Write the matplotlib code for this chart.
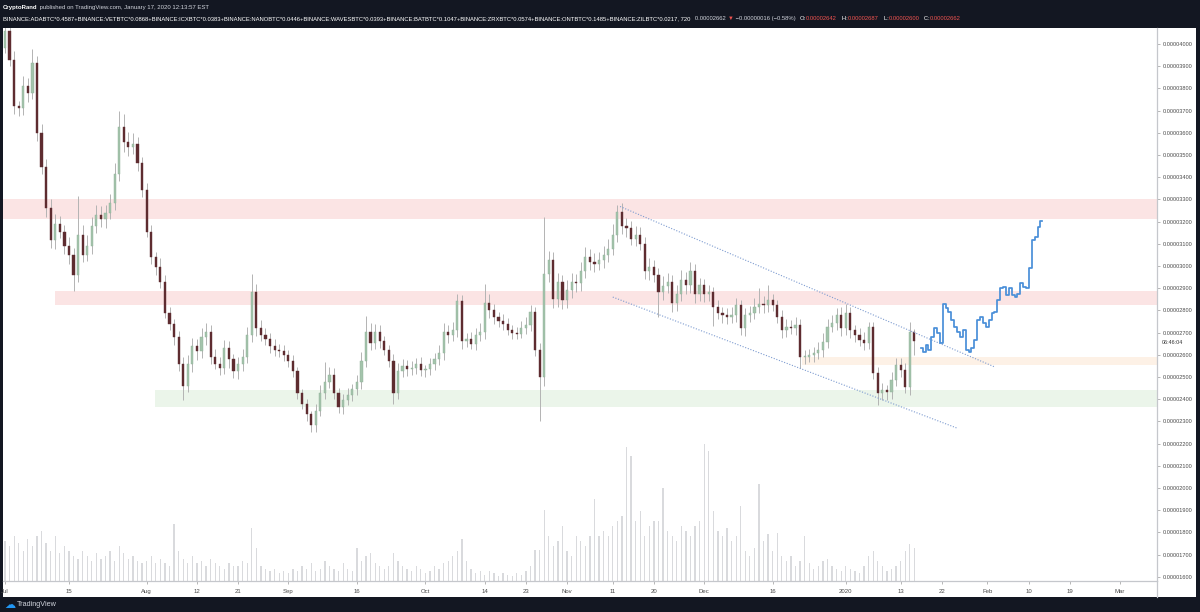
import numpy as np
import matplotlib.pyplot as plt

plt.rcParams['font.family'] = ['Liberation Sans', 'DejaVu Sans']

# Daily candles starting Jul 1 2019, prices in satoshi (1e-8 BTC)
CLOSE = [
    4060, 3930, 3720, 3712, 3809, 3780, 3914, 3600, 3446, 3260,
    3115, 3188, 3155, 3091, 3051, 2960, 3139, 3051, 3091, 3180,
    3228, 3210, 3240, 3285, 3414, 3624, 3560, 3535, 3551, 3462,
    3341, 3155, 3040, 2994, 2930, 2790, 2740, 2680, 2558, 2461,
    2558, 2639, 2615, 2680, 2703, 2590, 2560, 2542, 2631, 2580,
    2526, 2558, 2590, 2687, 2881, 2720, 2690, 2671, 2640, 2623,
    2615, 2600, 2574, 2526, 2429, 2380, 2332, 2284, 2348, 2429,
    2477, 2510, 2429, 2364, 2397, 2420, 2445, 2477, 2574, 2703,
    2655, 2703, 2660, 2623, 2574, 2429, 2526, 2550, 2535, 2542,
    2560, 2530, 2534, 2560, 2580, 2607, 2703, 2690, 2711, 2841,
    2663, 2671, 2650, 2687, 2703, 2833, 2800, 2768, 2752, 2740,
    2712, 2700, 2695, 2720, 2736, 2792, 2623, 2500, 2962, 3026,
    2850, 2930, 2849, 2890, 2930, 2922, 2978, 3042, 3020, 3010,
    3026, 3050, 3075, 3139, 3244, 3180, 3172, 3123, 3139, 3100,
    2978, 2994, 2960, 2881, 2910, 2930, 2833, 2873, 2938, 2913,
    2978, 2873, 2913, 2873, 2881, 2816, 2790, 2780, 2770, 2779,
    2824, 2719, 2779, 2786, 2816, 2831, 2824, 2846, 2824, 2771,
    2711, 2726, 2719, 2734, 2590, 2591, 2599, 2606, 2621, 2659,
    2726, 2741, 2779, 2719, 2786, 2711, 2689, 2666, 2651, 2726,
    2520, 2426, 2441, 2433, 2486, 2554, 2531, 2456, 2704, 2662,
]
FIRST_OPEN = 3980

UP_WICK = [
    40, 30, 40, 25, 45, 40, 65, 30, 40, 35,
    40, 45, 35, 30, 40, 30, 178, 45, 50, 40,
    45, 40, 35, 40, 50, 72, 60, 45, 50, 30,
    30, 35, 30, 25, 40, 30, 25, 20, 25, 30,
    40, 35, 30, 40, 41, 30, 35, 30, 35, 30,
    25, 30, 35, 40, 81, 40, 35, 30, 25, 30,
    25, 30, 20, 25, 20, 15, 20, 15, 30, 35,
    89, 35, 30, 20, 25, 30, 25, 30, 40, 73,
    40, 35, 30, 25, 20, 30, 35, 30, 25, 30,
    25, 30, 20, 25, 30, 35, 40, 30, 35, 32,
    30, 25, 30, 35, 40, 88, 40, 30, 25, 30,
    25, 20, 25, 30, 35, 30, 25, 30, 258, 40,
    35, 40, 30, 45, 40, 35, 40, 45, 35, 40,
    35, 40, 45, 50, 30, 40, 35, 30, 40, 35,
    30, 40, 35, 30, 45, 40, 30, 40, 45, 35,
    40, 30, 35, 30, 35, 25, 30, 25, 30, 35,
    30, 25, 30, 35, 40, 68, 35, 68, 30, 25,
    30, 35, 30, 35, 25, 30, 25, 30, 35, 40,
    35, 40, 30, 35, 45, 30, 25, 30, 35, 23,
    20, 25, 30, 25, 35, 30, 30, 30, 45, 10,
]

LOW_WICK = [
    20, 30, 35, 37, 30, 40, 30, 35, 30, 40,
    35, 40, 30, 35, 40, 71, 30, 35, 30, 35,
    30, 35, 40, 30, 35, 30, 45, 40, 30, 35,
    30, 25, 30, 35, 30, 25, 30, 35, 30, 64,
    30, 35, 40, 30, 35, 30, 25, 35, 30, 40,
    30, 35, 30, 25, 30, 35, 30, 25, 30, 30,
    25, 30, 30, 25, 30, 25, 30, 33, 30, 25,
    30, 25, 30, 24, 30, 25, 30, 25, 30, 30,
    35, 30, 30, 25, 30, 49, 30, 25, 30, 25,
    30, 25, 30, 25, 30, 25, 30, 35, 30, 30,
    35, 30, 25, 30, 25, 30, 35, 30, 25, 30,
    25, 30, 25, 20, 25, 30, 30, 200, 40, 35,
    40, 35, 45, 40, 35, 40, 35, 30, 40, 35,
    30, 35, 30, 25, 30, 35, 40, 30, 35, 30,
    35, 40, 30, 113, 35, 30, 40, 35, 30, 40,
    35, 40, 30, 35, 30, 88, 30, 35, 30, 25,
    30, 30, 35, 30, 25, 30, 35, 30, 25, 30,
    35, 30, 25, 30, 51, 30, 25, 30, 25, 30,
    30, 25, 30, 35, 30, 35, 30, 25, 30, 25,
    30, 53, 30, 37, 30, 25, 30, 30, 35, 62,
]

VOLUME = [
    40, 35, 45, 38, 30, 42, 35, 45, 50, 38,
    30, 45, 28, 35, 30, 25, 22, 30, 25, 20,
    28, 22, 25, 30, 20, 35, 28, 22, 25, 20,
    18, 20, 25, 18, 22, 18, 15, 57, 30, 22,
    18, 25, 18, 20, 15, 22, 18, 15, 12, 18,
    15, 15, 20, 18, 53, 33, 15, 12, 10, 12,
    8, 10, 8, 12, 10, 15, 12, 18, 10, 12,
    20, 15, 12, 10, 18, 12, 10, 33, 20, 25,
    28, 18, 15, 12, 15, 28, 20, 15, 12, 10,
    15, 12, 8, 10, 15, 12, 18, 20, 25, 30,
    42, 20, 12, 8, 10, 6, 10, 8, 5, 8,
    6, 5, 8, 6, 10, 15, 31, 31, 71, 45,
    35, 40, 55, 30, 25, 45, 40, 35, 45, 82,
    45, 50, 45, 55, 60, 65, 134, 125, 60, 70,
    45, 55, 60, 60, 93, 50, 45, 40, 55, 50,
    45, 55, 60, 137, 130, 70, 50, 45, 53, 40,
    45, 75, 30, 25, 33, 97, 40, 47, 30, 48,
    25, 20, 25, 15, 20, 45, 18, 12, 15, 20,
    22, 15, 12, 10, 15, 12, 10, 8, 15, 25,
    30, 20, 15, 10, 12, 15, 20, 30, 37, 33,
]

# projected path (blue bars pattern)
PROJECTION = [2629, 2614, 2644, 2621, 2681, 2719, 2696, 2651, 2831, 2809,
              2794, 2756, 2726, 2704, 2681, 2711, 2621, 2614, 2629, 2666,
              2756, 2771, 2741, 2726, 2756, 2786, 2794, 2846, 2899, 2907,
              2869, 2899, 2869, 2861, 2876, 2922, 2907, 2899, 2989, 3117,
              3132, 3177, 3204]
PROJ_START, PROJ_END = 200.5, 226.9

# zones: (low, high, start day, colour)
ZONES = [
    (3210, 3300, -1, '#fbe4e4'),
    (2823, 2888, 10.9, '#fbe4e4'),
    (2556, 2590, 174.4, '#fdf1e6'),
    (2364, 2443, 32.8, '#ebf5ea'),
]

# channel lines: ((day, price), (day, price))
CHANNEL = [((134.6, 3268), (216.6, 2545)),
           ((133.0, 2860), (208.3, 2270))]

X_TICK_DAYS = [0, 14, 31, 42, 51, 62, 77, 92, 105, 114, 123, 133, 142,
               153, 168, 184, 196, 205, 215, 224, 233, 244]
X_TICK_LABELS = ['Jul', '15', 'Aug', '12', '21', 'Sep', '16', 'Oct', '14',
                 '23', 'Nov', '11', '20', 'Dec', '16', '2020', '13', '22',
                 'Feb', '10', '19', 'Mar']
Y_TICKS = list(range(1600, 4001, 100))

W, H = 1200, 612
XMIN, XMAX = -0.44, 252.1
YMIN, YMAX = 1581, 4072
DARK = '#131722'

fig = plt.figure(figsize=(W / 100, H / 100), dpi=100, facecolor=DARK)

# white chart panel incl. price/time scales
panel = fig.add_axes([3 / W, 1 - 597 / H, 1193 / W, 569 / H])
panel.set_facecolor('white')
panel.set_xticks([])
panel.set_yticks([])
for s in panel.spines.values():
    s.set_visible(False)

rect = [3 / W, 1 - 581 / H, 1154 / W, 553 / H]
vol_ax = fig.add_axes(rect, facecolor='none')
ax = fig.add_axes(rect, facecolor='none', sharex=vol_ax)

# volume
days = np.arange(len(CLOSE))
vol_ax.bar(days, VOLUME, width=0.28, color='#d9dadd', zorder=1)
vol_ax.set_ylim(0, 553)
vol_ax.axis('off')

# zones
for lo, hi, start, col in ZONES:
    frac = (start - XMIN) / (XMAX - XMIN)
    ax.axhspan(lo, hi, xmin=max(frac, 0), xmax=1, color=col, lw=0, zorder=1)

# candles
close = np.array(CLOSE)
opens = np.concatenate([[FIRST_OPEN], close[:-1]])
highs = np.maximum(opens, close) + np.array(UP_WICK)
lows = np.minimum(opens, close) - np.array(LOW_WICK)
up = close >= opens
ax.vlines(days, lows, highs, color='#b3b3b3', lw=0.7, zorder=2)
body = np.maximum(np.abs(close - opens), 4)
ax.bar(days[up], body[up], bottom=opens[up], width=0.48,
       color='#a4c4ac', edgecolor='#8fb097', lw=0.3, zorder=3)
ax.bar(days[~up], body[~up], bottom=close[~up], width=0.48,
       color='#5e2c30', edgecolor='#5e2c30', lw=0.3, zorder=3)

# channel
for (x0, y0), (x1, y1) in CHANNEL:
    ax.plot([x0, x1], [y0, y1], ls=(0, (1, 1.5)), color='#7d9bd0', lw=0.8, zorder=4)

# projection
px = np.linspace(PROJ_START, PROJ_END, len(PROJECTION))
ax.step(px, PROJECTION, where='mid', color='#4a8fd8', lw=1.25, zorder=5)

ax.set_xlim(XMIN, XMAX)
ax.set_ylim(YMIN, YMAX)

# axes styling
for side in ['top', 'left']:
    ax.spines[side].set_visible(False)
ax.spines['right'].set_color('#c5c7cc')
ax.spines['bottom'].set_color('#c5c7cc')
ax.spines['right'].set_linewidth(0.9)
ax.spines['bottom'].set_linewidth(0.9)
ax.yaxis.tick_right()
ax.set_yticks(Y_TICKS)
ax.set_yticklabels([f'{v * 1e-8:.8f}' for v in Y_TICKS])
ax.tick_params(axis='y', length=2.5, width=0.5, color='#9a9a9a', pad=1.5,
               labelsize=4.1, labelcolor='#4a4a4a')
ax.set_xticks(X_TICK_DAYS)
ax.set_xticklabels(X_TICK_LABELS)
ax.tick_params(axis='x', length=2.5, width=0.5, color='#9a9a9a', pad=3,
               labelsize=4.3, labelcolor='#4a4a4a')

# overlay for header/footer text
top = fig.add_axes([0, 0, 1, 1], facecolor='none')
top.axis('off')
top.set_xlim(0, W)
top.set_ylim(H, 0)

# right scale separator continues through the date strip
top.plot([1157, 1157], [581, 597], color='#c5c7cc', lw=0.9)

hdr = '#d1d4dc'
t = top.text(3, 9, 'CryptoRand', color='white', fontsize=4.3, fontweight='bold',
             va='baseline')
top.annotate(' published on TradingView.com, January 17, 2020 12:13:57 EST',
             xy=(1, 0), xycoords=t, va='bottom', color=hdr, fontsize=4.3)

line2 = [
    ('BINANCE:ADABTC*0.4587+BINANCE:VETBTC*0.0868+BINANCE:ICXBTC*0.0383+'
     'BINANCE:NANOBTC*0.0446+BINANCE:WAVESBTC*0.0393+BINANCE:BATBTC*0.1047+'
     'BINANCE:ZRXBTC*0.0574+BINANCE:ONTBTC*0.1485+BINANCE:ZILBTC*0.0217, 720',
     'white'),
    ('   0.00002662 ', hdr),
    ('▼', '#ef5350'),
    (' \u22120.00000016 (\u22120.58%)   ', hdr),
    ('O:', 'white'), ('0.00002642', '#ef5350'),
    ('   H:', 'white'), ('0.00002687', '#ef5350'),
    ('   L:', 'white'), ('0.00002600', '#ef5350'),
    ('   C:', 'white'), ('0.00002662', '#ef5350'),
]
prev = None
for s, c in line2:
    if prev is None:
        prev = top.text(3, 20, s, color=c, fontsize=4.25, va='baseline')
    else:
        prev = top.annotate(s, xy=(1, 0), xycoords=prev, va='bottom',
                            color=c, fontsize=4.25)

# countdown under the price scale
top.text(1162, 343, '06:46:04', color='#333333', fontsize=3.9, va='center')

# footer logo
top.text(4, 605, '\u2601', color='#2196f3', fontsize=8, va='center',
         family='DejaVu Sans')
top.text(17, 605, 'TradingView', color='#d1d4dc', fontsize=5.2, va='center')

fig.savefig('out.png', dpi=100, facecolor=DARK)
